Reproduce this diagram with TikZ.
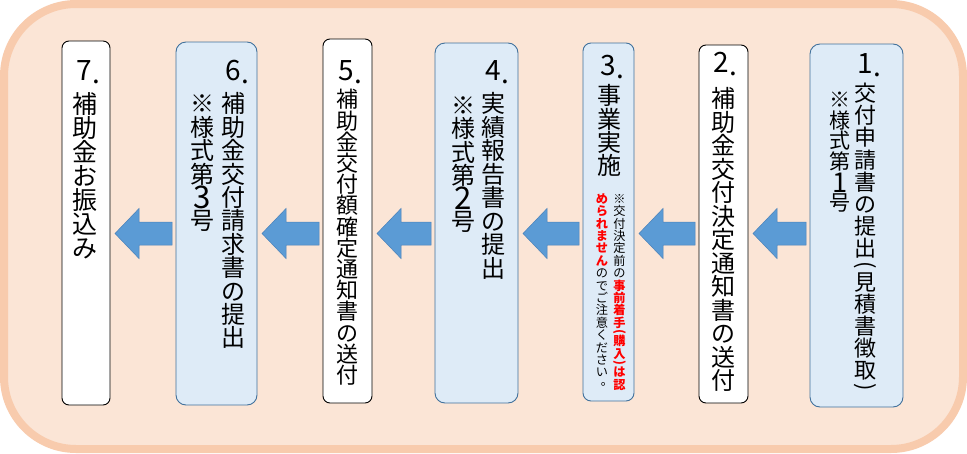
\documentclass[tikz,border=0pt]{standalone}
\usepackage{fontspec}
\setmainfont{Noto Sans CJK JP}
\usepackage{graphicx}
\usetikzlibrary{calc}
\definecolor{framefill}{RGB}{251,229,214}
\definecolor{frameline}{RGB}{248,203,173}
\definecolor{boxblue}{RGB}{222,235,247}
\definecolor{boxblueline}{RGB}{65,113,156}
\definecolor{arrowfill}{RGB}{91,155,213}
\definecolor{arrowline}{RGB}{75,130,185}
\definecolor{notered}{RGB}{255,0,0}
% vertical text helpers
\newdimen\vcp
\def\vcend{vcend-marker}
\newcommand\vcol[3]{\vbox{\offinterlineskip\fontsize{#1}{#2}\selectfont\vcp=#2pt\relax#3}}
\newcommand\vcell[1]{\hbox to 1em{\hss\rule[\dimexpr0.38em-0.5\vcp\relax]{0pt}{\vcp}\smash{#1}\hss}}
\newcommand\vc[1]{\vcloop#1\vcend}
\def\vcloop#1{\ifx#1\vcend\else\vcell{#1}\expandafter\vcloop\fi}
\newcommand\vhalf[1]{\vbox to 0.5\vcp{\vss\hbox to 1em{\hss\rotatebox{-90}{#1}\hss}\vss}}
\newcommand\vdig[1]{\vcell{\raisebox{-0.1em}{\scalebox{1.3}{#1}}}}
\newcommand\vmaru{\vcell{\kern0.8em\raisebox{0.28em}{。}}}
\newcommand\dotmark{\rlap{\kern0.01em\raisebox{-0.12em}{.}}}
\newcommand\flowarrow[2]{%
  \path[arrowshape] let \p1=(#1.west), \p2=(#2.east), \p3=(arrowy) in
    (\x2+5pt,\y3) -- (\x2+29pt,\y3+25pt) -- (\x2+29pt,\y3+11.5pt) --
    (\x1-4pt,\y3+11.5pt) -- (\x1-4pt,\y3-11.5pt) -- (\x2+29pt,\y3-11.5pt) --
    (\x2+29pt,\y3-25pt) -- cycle;}
\tikzset{
  whitebox/.style={draw=black, fill=white, line width=0.9pt, rounded corners=7pt, inner sep=0pt, outer sep=0pt},
  bluebox/.style={draw=boxblueline, fill=boxblue, line width=0.9pt, rounded corners=10pt, inner sep=0pt, outer sep=0pt},
  col/.style={inner sep=0pt, outer sep=0pt, anchor=north},
  num/.style={inner sep=0pt, outer sep=0pt, anchor=base, font=\fontsize{28}{28}\selectfont},
  arrowshape/.style={fill=arrowfill, draw=arrowline, line width=0.5pt},
  frame/.style={line width=8pt, draw=frameline, fill=framefill, rounded corners=72pt}
}
\begin{document}
\begin{tikzpicture}[x=1pt,y=-1pt]
\useasboundingbox (0,0) rectangle (967,453);
\fill[white] (0,0) rectangle (967,453);
\draw[frame] (4,4) rectangle (963,449);
\coordinate (arrowy) at (0,233.5);
% boxes
\node[bluebox, minimum width=93pt, minimum height=363pt] (b1) at (856.5,225.5) {};
\node[whitebox, minimum width=49pt, minimum height=358pt] (b2) at (723.5,224) {};
\node[bluebox, minimum width=51pt, minimum height=358pt, rounded corners=8pt] (b3) at (608.5,222) {};
\node[bluebox, minimum width=83pt, minimum height=360pt] (b4) at (476.5,223) {};
\node[whitebox, minimum width=49pt, minimum height=364pt] (b5) at (347.5,221) {};
\node[bluebox, minimum width=81pt, minimum height=363pt] (b6) at (216.5,223.5) {};
\node[whitebox, minimum width=48pt, minimum height=364pt] (b7) at (86,223) {};
% arrows
\flowarrow{b1}{b2}
\flowarrow{b2}{b3}
\flowarrow{b3}{b4}
\flowarrow{b4}{b5}
\flowarrow{b5}{b6}
\flowarrow{b6}{b7}
% numbers
\node[num] (n1) at (865,73) {1\dotmark};
\node[num] (n2) at (721,72) {2\dotmark};
\node[num] (n3) at (608,75) {3\dotmark};
\node[num] (n4) at (493,80) {4\dotmark};
\node[num] (n5) at (346,80) {5\dotmark};
\node[num] (n6) at (233,80) {6\dotmark};
\node[num] (n7) at (84,80) {7\dotmark};
% texts
\node[col] (t1r) at (865,82) {\vcol{22}{22.2}{\vc{交付申請書の提出}\vhalf{(}\vc{見積書徴取}\vhalf{)}}};
\node[col] (t1l) at (840,89.5) {\vcol{21}{20.6}{\vc{※様式第}\vdig{1}\vc{号}}};
\node[col] (t2) at (723,87) {\vcol{24}{23.5}{\vc{補助金交付決定通知書の送付}}};
\node[col] (t3) at (609,84) {\vcol{24}{23.3}{\vc{事業実施}}};
\node[col] (t3r) at (619.5,192.5) {\vcol{12.2}{12.4}{\vc{※交付決定前の}\bfseries\color{notered}\vc{事前着手}\vhalf{(}\vc{購入}\vhalf{)}\vc{は認}}};
\node[col] (t3l) at (602,192.5) {\vcol{12.2}{12.4}{\bfseries\color{notered}\vc{められません}\mdseries\color{black}\vc{のでご注意ください}\vmaru}};
\node[col] (t4r) at (493,92) {\vcol{24}{23.5}{\vc{実績報告書の提出}}};
\node[col] (t4l) at (463,94) {\vcol{24}{23.2}{\vc{※様式第}\vdig{2}\vc{号}}};
\node[col] (t5) at (347,89) {\vcol{22}{21.2}{\vc{補助金交付額確定通知書の送付}}};
\node[col] (t6r) at (233,92) {\vcol{24}{23.4}{\vc{補助金交付請求書の提出}}};
\node[col] (t6l) at (202,92) {\vcol{24}{23.4}{\vc{※様式第}\vdig{3}\vc{号}}};
\node[col] (t7) at (85,92) {\vcol{25}{24}{\vc{補助金お振込み}}};
\end{tikzpicture}
\end{document}
